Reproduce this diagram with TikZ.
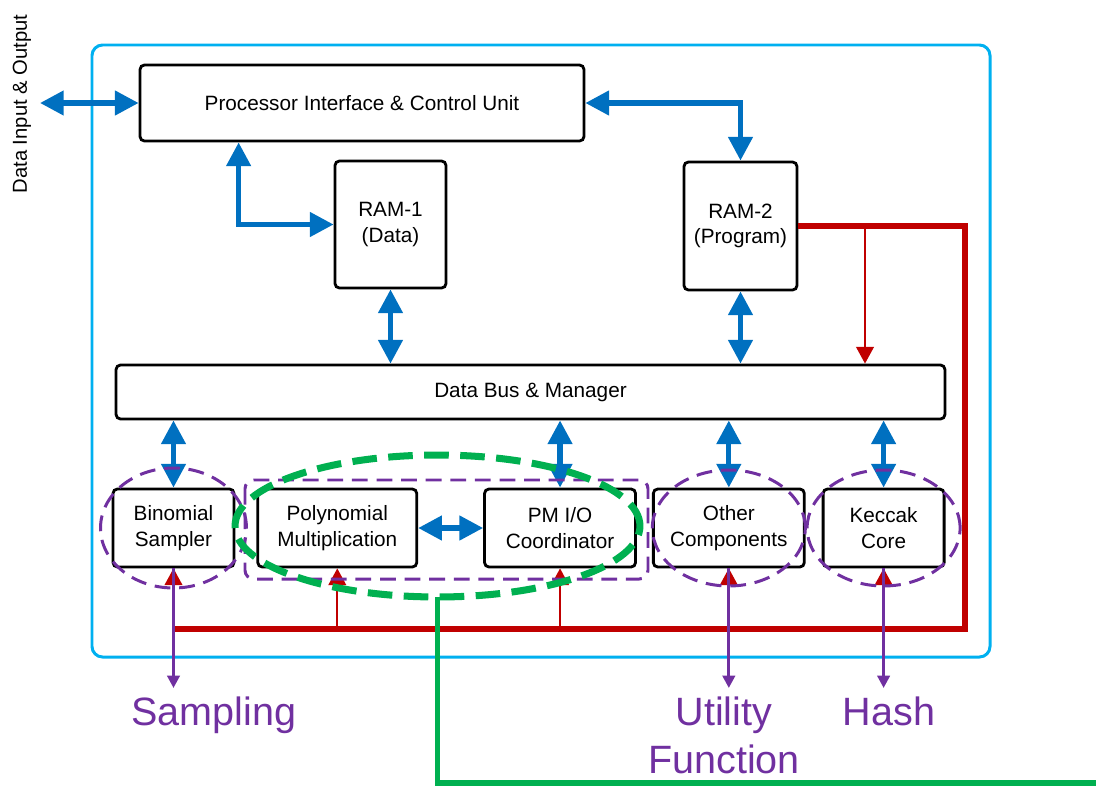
\documentclass[tikz,border=0pt]{standalone}
\usepackage{fontspec}
\setmainfont{Liberation Sans}
\usepackage{tikz}
\usetikzlibrary{positioning, arrows.meta}

\definecolor{dblue}{RGB}{0,112,192}
\definecolor{chipcyan}{RGB}{0,176,240}
\definecolor{dred}{RGB}{192,0,0}
\definecolor{purp}{RGB}{112,48,160}
\definecolor{grn}{RGB}{0,176,80}

\begin{document}
\begin{tikzpicture}[
        x=0.02cm, y=-0.02cm,
        node distance=0.4cm,
        unitbox/.style={
            rectangle,
            rounded corners=2.5pt,
            draw,
            line width=1.6pt,
            fill=white,
            align=center,
            inner sep=2pt,
            font=\fontsize{11.8}{14.6}\selectfont
        },
        corebox/.style={unitbox, minimum height=1.56cm}, % lower row of cores
        buslink/.style={{Triangle[width=13.5pt,length=13.5pt]}-{Triangle[width=13.5pt,length=13.5pt]}, line width=3pt, draw=dblue},
        ctrlbus/.style={line width=3.2pt, draw=dred},
        ctrlarrow/.style={-{Triangle[width=10pt,length=9.5pt]}, line width=1.2pt, draw=dred},
        extarrow/.style={-{Triangle[width=7pt,length=7pt]}, line width=1.7pt, draw=purp},
        grpdash/.style={line width=1.7pt, draw=purp, dash pattern=on 9pt off 5pt},
        hlring/.style={line width=4pt, draw=grn, dash pattern=on 14pt off 6.5pt},
        outlabel/.style={text=purp, font=\fontsize{22.5}{27.2}\selectfont, align=center, inner sep=5pt, anchor=north}
    ]
    \useasboundingbox (0,0) rectangle (1096,788);

    % --- Chip outline ---
    \draw[chipcyan, line width=1.7pt, rounded corners=6pt] (92,45) rectangle (990,657);

    % --- Nodes ---
    \node[unitbox, minimum width=8.88cm, minimum height=1.52cm] (pi) at (362,103) {Processor Interface \& Control Unit};
    \node[unitbox, minimum width=2.22cm, minimum height=2.54cm] (ram1) at (390.5,224.5) {RAM-1\\(Data)};
    \node[unitbox, minimum width=2.26cm, minimum height=2.56cm] (ram2) at (740.5,226) {RAM-2\\(Program)};
    \node[unitbox, minimum width=16.58cm, minimum height=1.08cm] (db) at (530.5,392) {Data Bus \& Manager};

    \node[corebox, minimum width=2.42cm] (bs) at (173.5,528) {Binomial\\Sampler};
    \node[corebox, minimum width=3.18cm, right=0.42cm of bs] (pm) {Polynomial\\Multiplication};
    \node[corebox, minimum width=3.02cm, right=1.30cm of pm] (pmio) {PM I/O\\Coordinator};
    \node[corebox, minimum width=3.02cm, right=0.30cm of pmio] (oc) {Other\\Components};
    \node[corebox, minimum width=2.42cm, right=0.32cm of oc] (kc) {Keccak\\Core};

    \node[rotate=90, font=\fontsize{11.5}{14}\selectfont] (dio) at (22,104) {Data Input \& Output};
    \coordinate (ioend) at (40,103);

    \node[outlabel] (samp) at (214,688) {Sampling};
    \node[outlabel] (util) at (724,688) {Utility\\Function};
    \node[outlabel] (hash) at (889,688) {Hash};

    % --- Data links ---
    \draw[buslink] (ioend) -- (pi.west);
    \draw[buslink] (pi.east) -| (ram2.north);
    \draw[buslink] ([xshift=2cm]pi.south west) |- (ram1.west);
    \draw[buslink] (ram1.south) -- (ram1.south |- db.north);
    \draw[buslink] (ram2.south) -- (ram2.south |- db.north);
    \foreach \n in {bs,pmio,oc,kc}
        \draw[buslink] (\n.north |- db.south) -- (\n.north);
    \draw[buslink] (pm.east) -- (pmio.west);

    % --- Program / control bus ---
    \coordinate (busR) at (965,629);
    \coordinate (busL) at (172,629);
    \coordinate (tap) at (865,226);
    \draw[ctrlbus] (ram2.east) -| (busR) -- (busL);
    \draw[ctrlarrow] (tap) -- (tap |- db.north);
    \foreach \n in {bs,pm,pmio,oc,kc}
        \draw[ctrlarrow] (\n.south |- busL) -- (\n.south);

    % --- Groups ---
    \draw[grpdash] (bs) ellipse [x radius=1.46cm, y radius=1.2cm];
    \draw[grpdash] (oc) ellipse [x radius=1.53cm, y radius=1.16cm];
    \draw[grpdash] (kc) ellipse [x radius=1.53cm, y radius=1.16cm];
    \draw[grpdash, rounded corners=5pt] (245,480) rectangle (648,579);

    \draw[extarrow] (bs.south) -- (bs.south |- samp.north);
    \draw[extarrow] (oc.south) -- (oc.south |- util.north);
    \draw[extarrow] (kc.south) -- (kc.south |- hash.north);

    % --- Multiplier highlight ---
    \coordinate (pmgrp) at (437.5,526);
    \coordinate (gend) at (1096,783);
    \draw[hlring] (pmgrp) ellipse [x radius=4.05cm, y radius=1.42cm];
    \draw[grn, line width=3.4pt] ([yshift=-1.42cm]pmgrp) |- (gend);

\end{tikzpicture}
\end{document}
